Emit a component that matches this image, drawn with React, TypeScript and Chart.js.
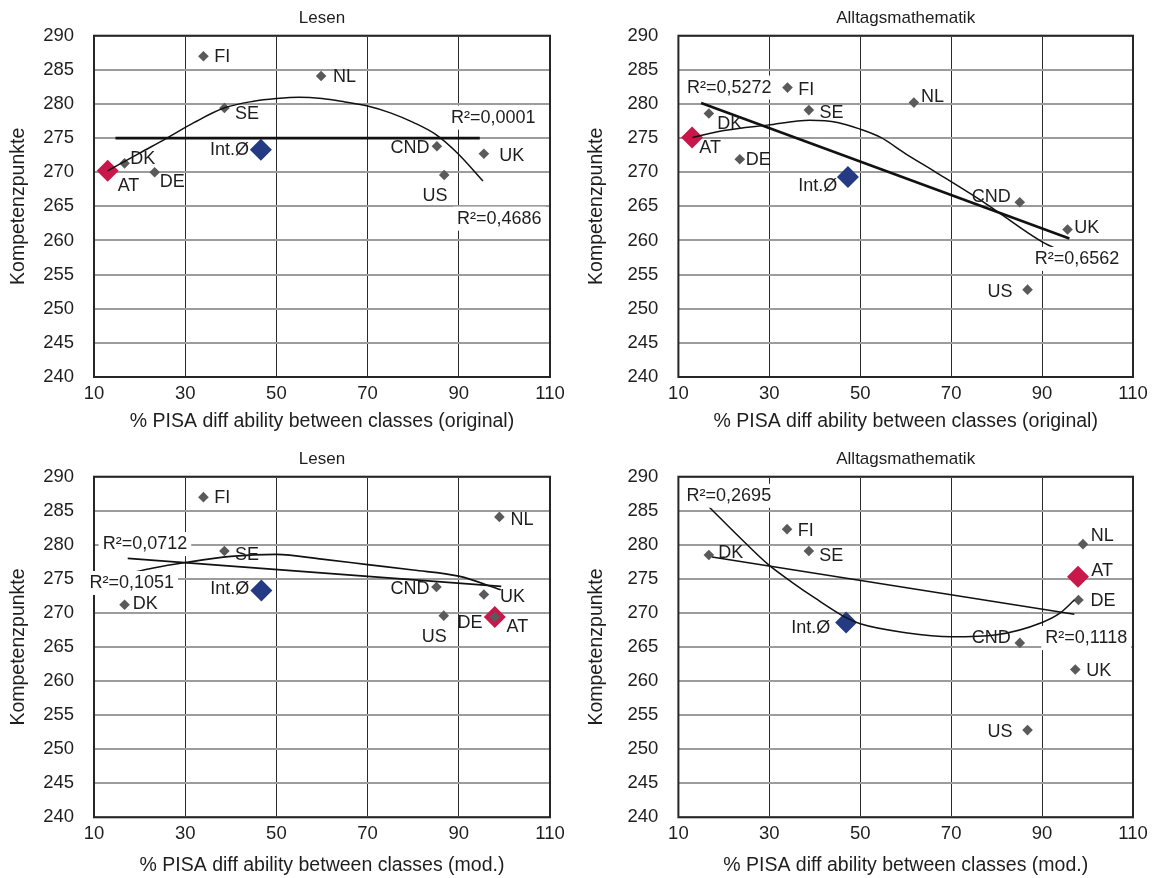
import React, { useEffect, useRef } from "react";
import { Chart, registerables } from "chart.js";

Chart.register(...registerables);

const FONT = '"Liberation Sans", Arial, Helvetica, sans-serif';

// ---------- data ----------
const countryLabels = ["FI", "NL", "SE", "DK", "DE", "CND", "UK", "US"];
const highlightLabels = ["AT", "Int.Ø"];

const xTickValues = [10, 30, 50, 70, 90, 110];
const yTickValues = [240, 245, 250, 255, 260, 265, 270, 275, 280, 285, 290];

// Lesen – original
const lesenOrigX = [34.0, 59.8, 38.6, 16.7, 23.3, 85.2, 95.5, 86.8];
const lesenOrigY = [287.0, 284.1, 279.4, 271.3, 270.0, 273.8, 272.7, 269.6];
const lesenOrigHiX = [13.0, 46.6];
const lesenOrigHiY = [270.2, 273.3];
const lesenOrigLinX = [14.7, 94.6];
const lesenOrigLinY = [275.0, 275.0];
const lesenOrigPolyX = [13.0, 20, 26, 32, 38.5, 45, 50, 55, 60, 65, 70, 75, 80, 85, 90, 95.3];
const lesenOrigPolyY = [270.2, 272.8, 275.0, 277.3, 279.4, 280.4, 280.8, 281.0, 280.8, 280.3, 279.7, 278.7, 277.3, 275.5, 272.6, 268.7];
const lesenOrigR2 = ["R²=0,0001", "R²=0,4686"];

// Alltagsmathematik – original
const mathOrigX = [34.0, 61.8, 38.7, 16.7, 23.5, 85.1, 95.6, 86.8];
const mathOrigY = [282.4, 280.2, 279.1, 278.6, 271.9, 265.6, 261.6, 252.8];
const mathOrigHiX = [13.0, 47.3];
const mathOrigHiY = [275.1, 269.3];
const mathOrigLinX = [15.0, 96.0];
const mathOrigLinY = [280.15, 260.3];
const mathOrigPolyX = [13.1, 20, 29.6, 38.9, 45, 50, 54.5, 60, 66.4, 77.2, 90, 95.2];
const mathOrigPolyY = [275.1, 276.1, 276.9, 277.6, 277.3, 276.3, 275.1, 272.7, 270.1, 265.6, 259.8, 258.2];
const mathOrigR2 = ["R²=0,5272", "R²=0,6562"];

// Lesen – mod.
const lesenModX = [34.0, 98.9, 38.6, 16.7, 97.9, 85.1, 95.5, 86.7];
const lesenModY = [287.0, 284.1, 279.1, 271.2, 269.4, 273.8, 272.7, 269.6];
const lesenModHiX = [97.9, 46.7];
const lesenModHiY = [269.4, 273.3];
const lesenModLinX = [17.4, 99.3];
const lesenModLinY = [278.0, 273.9];
const lesenModPolyX = [17.0, 23, 30, 40, 50, 60, 70, 80, 90, 99.2];
const lesenModPolyY = [275.7, 276.6, 277.4, 278.3, 278.6, 277.9, 277.1, 276.3, 275.4, 273.4];
const lesenModR2 = ["R²=0,0712", "R²=0,1051"];

// Alltagsmathematik – mod.
const mathModX = [33.9, 99.0, 38.7, 16.7, 98.0, 85.1, 97.3, 86.8];
const mathModY = [282.3, 280.1, 279.1, 278.5, 271.9, 265.6, 261.7, 252.8];
const mathModHiX = [97.9, 46.9];
const mathModHiY = [275.3, 268.6];
const mathModLinX = [17.4, 97.1];
const mathModLinY = [278.2, 269.8];
const mathModPolyX = [16.7, 23, 29.6, 35, 40, 46.9, 50, 60, 70, 80, 90, 94, 97.1];
const mathModPolyY = [285.6, 281.4, 277.2, 274.5, 272.2, 269.3, 268.4, 267.1, 266.5, 266.8, 268.6, 270.0, 271.9];
const mathModR2 = ["R²=0,2695", "R²=0,1118"];

// ---------- styling / placement ----------
type Place = [number, number, "left" | "right"];

const COLORS = {
  gray: "#5a5a5a",
  red: "#c8174b",
  blue: "#243b84",
  line: "#111111",
  text: "#1e1e1e",
  hgrid: "#9c9c9c",
  vgrid: "#2a2a2a",
};

const AXIS_TITLE_SIZE = 19.5;
const AXIS_TITLE_LH = AXIS_TITLE_SIZE * 1.2;

const toPts = (xs: number[], ys: number[]) => xs.map((x, i) => ({ x, y: ys[i] }));

interface PanelCfg {
  left: number;
  top: number;
  area: { left: number; right: number; top: number; bottom: number };
  titleCenterY: number;
  titleShift: number;
  xTitleCenterY: number;
  title: string;
  xTitle: string;
  xs: number[];
  ys: number[];
  hiX: number[];
  hiY: number[];
  linX: number[];
  linY: number[];
  polyX: number[];
  polyY: number[];
  linWidth: number;
  polyWidth: number;
  labelPlace: Place[];
  hiPlace: Place[];
  r2: string[];
  r2Pos: [number, number][];
}

const panels: PanelCfg[] = [
  {
    left: 0,
    top: 0,
    area: { left: 94, right: 550, top: 35.7, bottom: 377 },
    titleCenterY: 18.2,
    titleShift: 0,
    xTitleCenterY: 421.5,
    title: "Lesen",
    xTitle: "% PISA diff ability between classes (original)",
    xs: lesenOrigX,
    ys: lesenOrigY,
    hiX: lesenOrigHiX,
    hiY: lesenOrigHiY,
    linX: lesenOrigLinX,
    linY: lesenOrigLinY,
    polyX: lesenOrigPolyX,
    polyY: lesenOrigPolyY,
    linWidth: 2.6,
    polyWidth: 1.5,
    labelPlace: [
      [10.7, 1, "left"],
      [12, 1, "left"],
      [10.7, 6, "left"],
      [5.7, -4, "left"],
      [5, 10, "left"],
      [-7.3, 1.7, "right"],
      [15.3, 2, "left"],
      [3.3, 21, "right"],
    ],
    hiPlace: [
      [10, 15, "left"],
      [-12, 0, "right"],
    ],
    r2: lesenOrigR2,
    r2Pos: [
      [88.3, 278.0],
      [89.6, 263.2],
    ],
  },
  {
    left: 578,
    top: 0,
    area: { left: 100.4, right: 555, top: 35.7, bottom: 377 },
    titleCenterY: 18.2,
    titleShift: 10,
    xTitleCenterY: 421.5,
    title: "Alltagsmathematik",
    xTitle: "% PISA diff ability between classes (original)",
    xs: mathOrigX,
    ys: mathOrigY,
    hiX: mathOrigHiX,
    hiY: mathOrigHiY,
    linX: mathOrigLinX,
    linY: mathOrigLinY,
    polyX: mathOrigPolyX,
    polyY: mathOrigPolyY,
    linWidth: 2.6,
    polyWidth: 1.5,
    labelPlace: [
      [10.7, 2.3, "left"],
      [7, -6, "left"],
      [10.7, 3.3, "left"],
      [8.3, 10.7, "left"],
      [6, 0.7, "left"],
      [-9, -5.7, "right"],
      [6.7, -1.7, "left"],
      [-15, 2.3, "right"],
    ],
    hiPlace: [
      [7.3, 10.7, "left"],
      [-10.7, 9.3, "right"],
    ],
    r2: mathOrigR2,
    r2Pos: [
      [11.9, 282.4],
      [88.4, 257.3],
    ],
  },
  {
    left: 0,
    top: 439,
    area: { left: 94, right: 550, top: 37.7, bottom: 378.3 },
    titleCenterY: 20.5,
    titleShift: 0,
    xTitleCenterY: 426.2,
    title: "Lesen",
    xTitle: "% PISA diff ability between classes (mod.)",
    xs: lesenModX,
    ys: lesenModY,
    hiX: lesenModHiX,
    hiY: lesenModHiY,
    linX: lesenModLinX,
    linY: lesenModLinY,
    polyX: lesenModPolyX,
    polyY: lesenModPolyY,
    linWidth: 1.7,
    polyWidth: 1.7,
    labelPlace: [
      [10.7, 1, "left"],
      [11, 3, "left"],
      [10.7, 4.3, "left"],
      [8.3, -0.7, "left"],
      [-12.3, 5.7, "right"],
      [-7, 1.7, "right"],
      [16, 2.7, "left"],
      [3, 21, "right"],
    ],
    hiPlace: [
      [11.7, 10, "left"],
      [-12, -1, "right"],
    ],
    r2: lesenModR2,
    r2Pos: [
      [11.9, 280.1],
      [9.0, 274.4],
    ],
  },
  {
    left: 578,
    top: 439,
    area: { left: 100.4, right: 555, top: 37.7, bottom: 378.3 },
    titleCenterY: 20.5,
    titleShift: 10,
    xTitleCenterY: 426.2,
    title: "Alltagsmathematik",
    xTitle: "% PISA diff ability between classes (mod.)",
    xs: mathModX,
    ys: mathModY,
    hiX: mathModHiX,
    hiY: mathModHiY,
    linX: mathModLinX,
    linY: mathModLinY,
    polyX: mathModPolyX,
    polyY: mathModPolyY,
    linWidth: 1.5,
    polyWidth: 1.5,
    labelPlace: [
      [10.7, 1.7, "left"],
      [7.7, -8.3, "left"],
      [10.3, 5, "left"],
      [9.3, -2.3, "left"],
      [12, 1, "left"],
      [-9, -5, "right"],
      [11, 1.7, "left"],
      [-15, 2, "right"],
    ],
    hiPlace: [
      [13.3, -6, "left"],
      [-16, 5.7, "right"],
    ],
    r2: mathModR2,
    r2Pos: [
      [11.8, 287.2],
      [90.7, 266.3],
    ],
  },
];

const W = 578;
const H = 439;

function makeOverlay(cfg: PanelCfg) {
  return {
    id: "overlay",
    beforeDatasetsDraw(chart: any) {
      const { ctx, chartArea: a } = chart;
      ctx.save();
      ctx.strokeStyle = "#262626";
      ctx.lineWidth = 2;
      ctx.strokeRect(a.left, a.top, a.right - a.left, a.bottom - a.top);
      ctx.restore();
    },
    afterDatasetsDraw(chart: any) {
      const ctx = chart.ctx;
      ctx.save();
      ctx.font = `18px ${FONT}`;
      ctx.fillStyle = COLORS.text;
      ctx.textBaseline = "middle";
      const draw = (dsIndex: number, texts: string[], places: Place[]) => {
        const meta = chart.getDatasetMeta(dsIndex);
        texts.forEach((t, i) => {
          const el = meta.data[i];
          if (!el) return;
          const [dx, dy, align] = places[i];
          ctx.textAlign = align;
          ctx.fillText(t, el.x + dx, el.y + dy);
        });
      };
      draw(2, countryLabels, cfg.labelPlace);
      draw(3, highlightLabels, cfg.hiPlace);
      ctx.restore();
    },
    afterDraw(chart: any) {
      const ctx = chart.ctx;
      const xs = chart.scales.x;
      const ys = chart.scales.y;
      ctx.save();
      ctx.font = `18px ${FONT}`;
      ctx.textBaseline = "middle";
      ctx.textAlign = "left";
      cfg.r2.forEach((t, i) => {
        const px = xs.getPixelForValue(cfg.r2Pos[i][0]);
        const py = ys.getPixelForValue(cfg.r2Pos[i][1]);
        const w = ctx.measureText(t).width;
        ctx.fillStyle = "#ffffff";
        ctx.fillRect(px - 4, py - 12, w + 8, 24);
        ctx.fillStyle = COLORS.text;
        ctx.fillText(t, px, py);
      });
      ctx.restore();
    },
  };
}

function buildConfig(cfg: PanelCfg): any {
  const a = cfg.area;
  const titleLH = 17 * 1.2;
  const titleTop = cfg.titleCenterY - titleLH / 2;
  return {
    type: "scatter",
    data: {
      datasets: [
        {
          data: toPts(cfg.polyX, cfg.polyY),
          showLine: true,
          pointRadius: 0,
          borderColor: COLORS.line,
          borderWidth: cfg.polyWidth,
          cubicInterpolationMode: "monotone",
          fill: false,
          order: 0,
        },
        {
          data: toPts(cfg.linX, cfg.linY),
          showLine: true,
          pointRadius: 0,
          borderColor: COLORS.line,
          borderWidth: cfg.linWidth,
          tension: 0,
          fill: false,
          order: 0,
        },
        {
          data: toPts(cfg.xs, cfg.ys),
          pointStyle: "rectRot",
          pointRadius: 5.3,
          backgroundColor: COLORS.gray,
          borderColor: COLORS.gray,
          borderWidth: 0,
          order: 1,
        },
        {
          data: toPts(cfg.hiX, cfg.hiY),
          pointStyle: "rectRot",
          pointRadius: 11,
          backgroundColor: [COLORS.red, COLORS.blue],
          borderColor: [COLORS.red, COLORS.blue],
          borderWidth: 0,
          order: 2,
        },
      ],
    },
    options: {
      responsive: false,
      animation: false,
      devicePixelRatio: 1,
      events: [],
      layout: { padding: { left: 0, top: 0, bottom: 0, right: W - a.right } },
      plugins: {
        legend: { display: false },
        tooltip: { enabled: false },
        title: {
          display: true,
          text: cfg.title,
          fullSize: false,
          color: COLORS.text,
          font: { family: FONT, size: 17, weight: "normal" },
          padding: { top: titleTop, bottom: a.top - titleTop - titleLH },
        },
      },
      scales: {
        x: {
          type: "linear",
          min: 10,
          max: 110,
          afterBuildTicks: (s: any) => {
            s.ticks = xTickValues.map((v) => ({ value: v }));
          },
          afterFit: (s: any) => {
            s.height = H - a.bottom;
          },
          ticks: {
            color: COLORS.text,
            font: { family: FONT, size: 18.5 },
            padding: 6,
            maxRotation: 0,
            autoSkip: false,
          },
          grid: { color: COLORS.vgrid, lineWidth: 1, drawTicks: false },
          border: { display: false },
          title: {
            display: true,
            text: cfg.xTitle,
            color: COLORS.text,
            font: { family: FONT, size: AXIS_TITLE_SIZE },
            padding: { top: 0, bottom: Math.max(0, H - cfg.xTitleCenterY - AXIS_TITLE_LH / 2) },
          },
        },
        y: {
          type: "linear",
          min: 240,
          max: 290,
          afterBuildTicks: (s: any) => {
            s.ticks = yTickValues.map((v) => ({ value: v }));
          },
          afterFit: (s: any) => {
            s.width = a.left;
          },
          ticks: {
            color: COLORS.text,
            font: { family: FONT, size: 18.5 },
            padding: 20,
            autoSkip: false,
          },
          grid: { color: COLORS.hgrid, lineWidth: 2, drawTicks: false },
          border: { display: false },
          title: {
            display: true,
            text: "Kompetenzpunkte",
            color: COLORS.text,
            font: { family: FONT, size: AXIS_TITLE_SIZE },
            padding: { top: 18.5 - AXIS_TITLE_LH / 2, bottom: 0 },
          },
        },
      },
    },
    plugins: [makeOverlay(cfg)],
  };
}

function Panel({ cfg }: { cfg: PanelCfg }) {
  const ref = useRef<HTMLCanvasElement>(null);
  useEffect(() => {
    if (!ref.current) return;
    const chart = new Chart(ref.current, buildConfig(cfg));
    return () => chart.destroy();
  }, [cfg]);
  return (
    <canvas
      ref={ref}
      width={W}
      height={H}
      style={{ position: "absolute", left: cfg.left, top: cfg.top, width: W, height: H }}
    />
  );
}

export default function App() {
  return (
    <div style={{ position: "absolute", left: 0, top: 0, width: 1156, height: 878, background: "#ffffff" }}>
      {panels.map((p, i) => (
        <Panel key={i} cfg={p} />
      ))}
    </div>
  );
}
